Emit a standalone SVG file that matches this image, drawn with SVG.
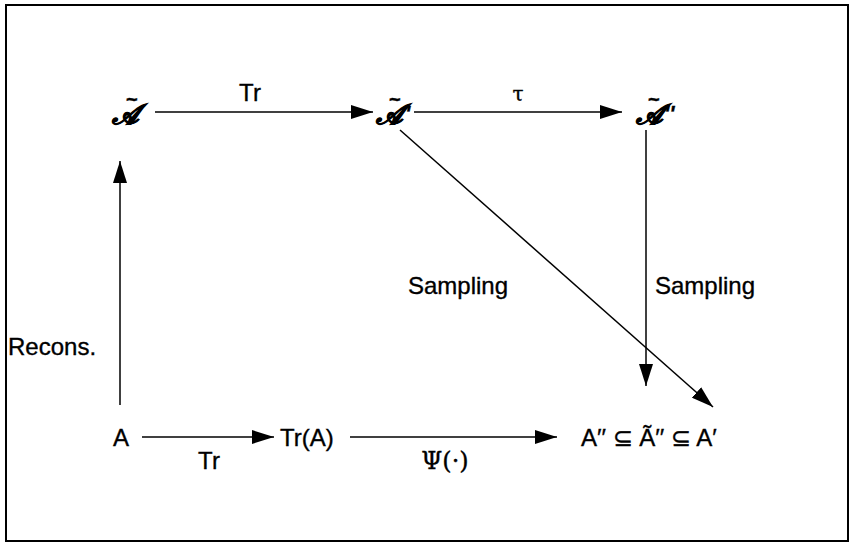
<svg xmlns="http://www.w3.org/2000/svg" width="850" height="544" viewBox="0 0 850 544">
<style>
text{font-family:"Liberation Sans",Arial,sans-serif;font-size:24px;fill:#000;stroke:#000;stroke-width:0.35}
.scr{font-family:"DejaVu Serif","DejaVu Sans",serif;font-style:italic;font-weight:bold;font-size:28px;stroke-width:0.9}
.tl{font-family:"Liberation Sans",sans-serif;font-style:normal;font-weight:bold;font-size:20px;stroke-width:0.4}
.pr{font-family:"Liberation Sans",sans-serif;font-style:italic;font-weight:bold;stroke-width:0.3;font-size:22px}
.ln{stroke:#000;stroke-width:1.5;fill:none}
</style>
<defs>
<marker id="ah" viewBox="0 0 22 14" refX="22" refY="7" markerWidth="22" markerHeight="14" markerUnits="userSpaceOnUse" orient="auto">
<path d="M0,0 L22,7 L0,14 Z" fill="#000"/>
</marker>
</defs>
<rect x="6" y="5" width="842" height="536" fill="#fff" stroke="#000" stroke-width="2"/>
<g id="connectors">
<line class="ln" x1="155" y1="112" x2="373" y2="112" marker-end="url(#ah)"/>
<line class="ln" x1="414" y1="112" x2="622" y2="112" marker-end="url(#ah)"/>
<line class="ln" x1="120" y1="405" x2="120" y2="161" marker-end="url(#ah)"/>
<line class="ln" x1="646" y1="130" x2="646" y2="386" marker-end="url(#ah)"/>
<line class="ln" x1="400" y1="130" x2="713" y2="407" marker-end="url(#ah)"/>
<line class="ln" x1="142" y1="437" x2="274" y2="437" marker-end="url(#ah)"/>
<line class="ln" x1="350" y1="437" x2="557" y2="437" marker-end="url(#ah)"/>
</g>
<g id="labels">
<text x="250" y="101" text-anchor="middle">Tr</text>
<text x="518" y="101" text-anchor="middle" style="font-family:'DejaVu Serif',serif;font-size:20px">τ</text>
<text x="8" y="355">Recons.</text>
<text x="408" y="294">Sampling</text>
<text x="655" y="294">Sampling</text>
<text x="209" y="469" text-anchor="middle">Tr</text>
<text x="445" y="469" text-anchor="middle" style="font-family:'DejaVu Serif',serif">Ψ(·)</text>
</g>
<g id="node-A-tilde">
<text class="scr" x="112" y="124">𝒜<tspan class="tl" x="126" y="106">~</tspan></text>
</g>
<g id="node-A-tilde-prime">
<text class="scr" x="376" y="124">𝒜<tspan class="tl" x="389" y="106">~</tspan></text>
<text class="pr" x="405" y="121">'</text>
</g>
<g id="node-A-tilde-dprime">
<text class="scr" x="636" y="124">𝒜<tspan class="tl" x="648" y="106">~</tspan></text>
<text class="pr" x="664" y="121">''</text>
</g>
<g id="node-A">
<text x="121" y="446" text-anchor="middle">A</text>
</g>
<g id="node-TrA">
<text x="280" y="446">Tr(A)</text>
</g>
<g id="node-result">
<text x="581" y="446">A′′ ⊆ Ã′′ ⊆ A′</text>
</g>
</svg>
